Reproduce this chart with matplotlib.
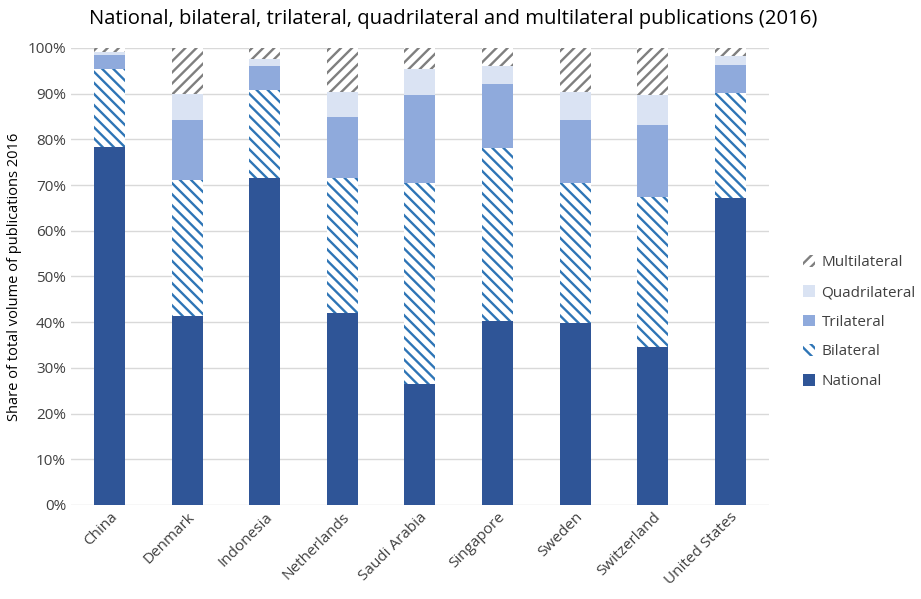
import matplotlib
matplotlib.use("Agg")
import matplotlib.pyplot as plt
from matplotlib.ticker import PercentFormatter
import numpy as np

countries = ["China", "Denmark", "Indonesia", "Netherlands", "Saudi Arabia",
             "Singapore", "Sweden", "Switzerland", "United States"]
national = [78.4, 41.3, 71.6, 42.0, 26.5, 40.2, 39.8, 34.6, 67.2]
bilateral = [16.9, 29.7, 19.3, 29.6, 44.0, 37.9, 30.7, 32.8, 23.0]
trilateral = [3.1, 13.2, 5.1, 13.2, 19.1, 13.9, 13.8, 15.8, 6.0]
quadrilateral = [0.7, 5.7, 1.6, 5.6, 5.8, 4.1, 6.1, 6.4, 2.0]
multilateral = [0.9, 10.1, 2.4, 9.6, 4.6, 3.9, 9.6, 10.4, 1.8]

plt.rcParams["font.family"] = ["Open Sans", "DejaVu Sans"]
plt.rcParams["hatch.linewidth"] = 1.7

fig = plt.figure(figsize=(9.21, 5.99), dpi=100)
ax = fig.add_axes([0.077, 0.157, 0.758, 0.763])

x = np.arange(len(countries))
w = 0.4
series = [
    ("National", national, dict(color="#2F5597")),
    ("Bilateral", bilateral, dict(facecolor="white", edgecolor="#2E75B6", hatch="\\\\\\")),
    ("Trilateral", trilateral, dict(color="#8FAADC")),
    ("Quadrilateral", quadrilateral, dict(color="#DAE3F3")),
    ("Multilateral", multilateral, dict(facecolor="white", edgecolor="#7F7F7F", hatch="///")),
]
bottom = np.zeros(len(countries))
for name, vals, style in series:
    vals = np.array(vals) / 100
    ax.bar(x, vals, w, bottom=bottom, label=name, linewidth=0, zorder=3, **style)
    bottom += vals

ax.set_xlim(-0.5, len(countries) - 0.5)
ax.set_ylim(0, 1.0)
ax.set_yticks(np.arange(0, 1.01, 0.1))
ax.yaxis.set_major_formatter(PercentFormatter(1.0, decimals=0))
ax.grid(axis="y", color="#D9D9D9", lw=1, zorder=0)
for s in ax.spines.values():
    s.set_visible(False)
ax.tick_params(length=0, labelsize=11, colors="#404040")
ax.set_xticks(x)
ax.set_xticklabels(countries, rotation=45, ha="right", rotation_mode="anchor")
ax.set_ylabel("Share of total volume of publications 2016", fontsize=10.5, color="#000000")
ax.set_title("National, bilateral, trilateral, quadrilateral and multilateral publications (2016)",
             fontsize=14.6, pad=17, x=0.548)

handles, labels = ax.get_legend_handles_labels()
ax.legend(handles[::-1], labels[::-1], loc="center left", bbox_to_anchor=(1.038, 0.40),
          frameon=False, fontsize=11, handlelength=0.8, handleheight=0.8,
          handletextpad=0.4, labelspacing=0.95, labelcolor="#404040", borderpad=0)

fig.savefig("out.png", dpi=100)
